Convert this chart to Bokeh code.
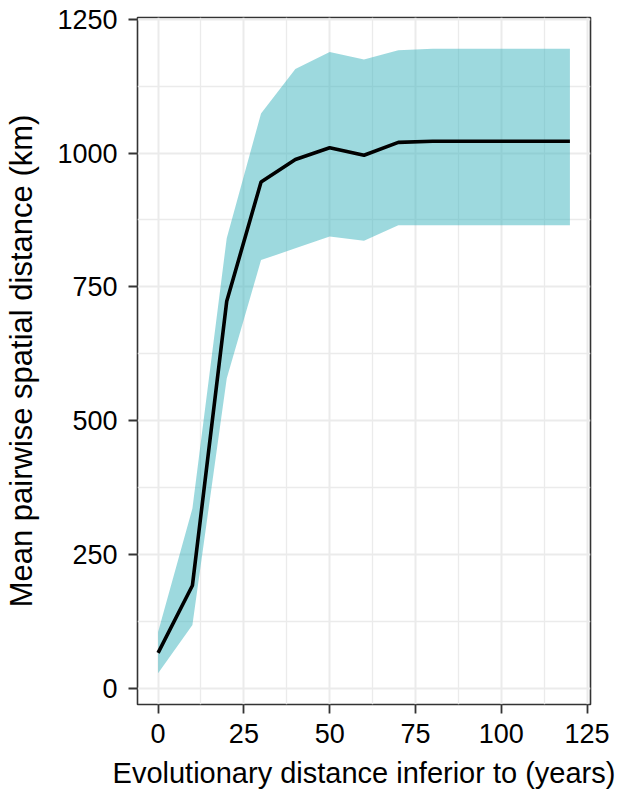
from bokeh.plotting import figure
from bokeh.models import Range1d, FixedTicker, ColumnDataSource
from bokeh.embed import file_html
from bokeh.resources import INLINE

# Data
evo_dist = [0, 10, 20, 30, 40, 50, 60, 70, 80, 90, 100, 110, 120]
mean_dist = [66, 192, 723, 946, 988, 1010, 996, 1020, 1022, 1022, 1022, 1022, 1022]
lower_dist = [28, 118, 579, 800, 822, 844, 836, 865, 865, 865, 865, 865, 865]
upper_dist = [105, 336, 841, 1074, 1157, 1189, 1175, 1192, 1195, 1195, 1195, 1195, 1195]

x_ticks = [0, 25, 50, 75, 100, 125]
x_minor = [12.5, 37.5, 62.5, 87.5, 112.5]
y_ticks = [0, 250, 500, 750, 1000, 1250]
y_minor = [125, 375, 625, 875, 1125]

src = ColumnDataSource(dict(x=evo_dist, m=mean_dist, lo=lower_dist, hi=upper_dist))

# ggplot-like 5% expansion
xmin, xmax = min(evo_dist), max(evo_dist)
ymin, ymax = min(lower_dist), max(upper_dist)
xe = 0.05 * (xmax - xmin)
ye = 0.05 * (ymax - ymin)

FONT = "Liberation Sans"

p = figure(frame_width=453, frame_height=687, output_backend="svg", toolbar_location=None,
           x_range=Range1d(xmin - xe, xmax + xe), y_range=Range1d(ymin - ye, ymax + ye),
           min_border_left=137, min_border_right=40, min_border_top=17, min_border_bottom=60)

p.varea(x="x", y1="lo", y2="hi", source=src, fill_color="#3CB4BD", fill_alpha=0.5)
p.line(x="x", y="m", source=src, line_color="black", line_width=3.6)

p.background_fill_color = "white"
p.border_fill_color = "white"
p.outline_line_color = "#333333"
p.outline_line_width = 1.6

p.xaxis.ticker = FixedTicker(ticks=x_ticks, minor_ticks=x_minor)
p.yaxis.ticker = FixedTicker(ticks=y_ticks, minor_ticks=y_minor)

for g in (p.xgrid, p.ygrid):
    g.grid_line_color = "#EBEBEB"
    g.grid_line_width = 2
    g.minor_grid_line_color = "#EBEBEB"
    g.minor_grid_line_width = 1.3

for ax in (p.xaxis, p.yaxis):
    ax.axis_line_color = None
    ax.major_tick_line_color = "#333333"
    ax.major_tick_line_width = 1.8
    ax.major_tick_out = 9
    ax.major_tick_in = 0
    ax.minor_tick_line_color = None
    ax.major_label_text_font = FONT
    ax.major_label_text_font_size = "27px"
    ax.major_label_text_color = "black"
    ax.axis_label_text_font = FONT
    ax.axis_label_text_font_style = "normal"
    ax.axis_label_text_color = "black"

p.xaxis.axis_label = "Evolutionary distance inferior to (years)"
p.yaxis.axis_label = "Mean pairwise spatial distance (km)"
p.xaxis.axis_label_text_font_size = "29px"
p.yaxis.axis_label_text_font_size = "31px"
p.xaxis.major_label_standoff = 10
p.yaxis.major_label_standoff = 11
p.xaxis.axis_label_standoff = 11
p.yaxis.axis_label_standoff = 15

open("out.html", "w").write(file_html(p, INLINE))
